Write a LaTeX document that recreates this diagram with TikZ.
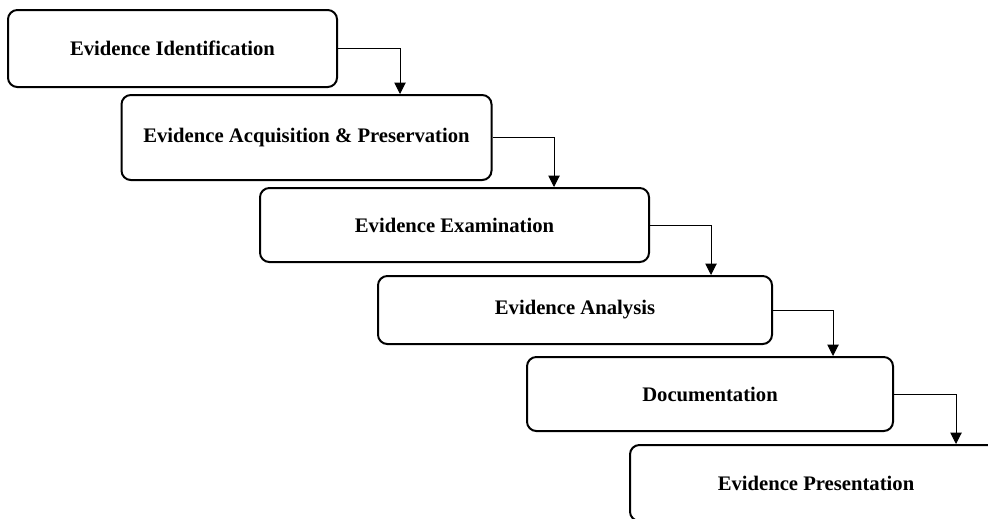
\documentclass[tikz,border=0pt]{standalone}
\usepackage{fontspec}
\setmainfont{Liberation Serif}
\usepackage{tikz}
\usetikzlibrary{arrows.meta, positioning}
\tikzstyle{stage}=[rectangle, draw, rounded corners=7pt, line width=1.5pt, font=\fontsize{15.5}{18}\selectfont\bfseries, align=center]
\tikzstyle{flow}=[line width=0.75pt, -{Triangle[width=8.5pt,length=8.5pt]}]
\newcommand{\stage}{\node[stage]}

\begin{document}
\begin{tikzpicture}[x=0.75pt, y=-0.75pt]
            \useasboundingbox (0,0) rectangle (988,518);
            \clip (0,0) rectangle (988,518);
            \stage (ident) at (172.5,48.5) [minimum width=246.75pt, minimum height=57.75pt]{Evidence Identification};
            \stage (acq) at (306.5,137.5) [minimum width=277.5pt, minimum height=63.75pt]{Evidence Acquisition \& Preservation};
            \stage (exam) at (454.5,225) [minimum width=291.75pt, minimum height=55.5pt]{Evidence Examination};
            \stage (anal) at (575,310) [minimum width=295.5pt, minimum height=51pt]{Evidence Analysis};
            \stage (doc) at (710,394) [minimum width=274.5pt, minimum height=55.5pt]{Documentation};
            \stage (pres) at (816,483) [minimum width=279pt, minimum height=57pt]{Evidence Presentation};
            \coordinate (k1) at (400,0);
            \coordinate (k2) at (554,0);
            \coordinate (k3) at (711,0);
            \coordinate (k4) at (833,0);
            \coordinate (k5) at (956,0);
            \draw[flow] (ident.east) -| (k1 |- acq.north);
            \draw[flow] (acq.east) -| (k2 |- exam.north);
            \draw[flow] (exam.east) -| (k3 |- anal.north);
            \draw[flow] (anal.east) -| (k4 |- doc.north);
            \draw[flow] (doc.east) -| (k5 |- pres.north);
        \end{tikzpicture}
\end{document}
